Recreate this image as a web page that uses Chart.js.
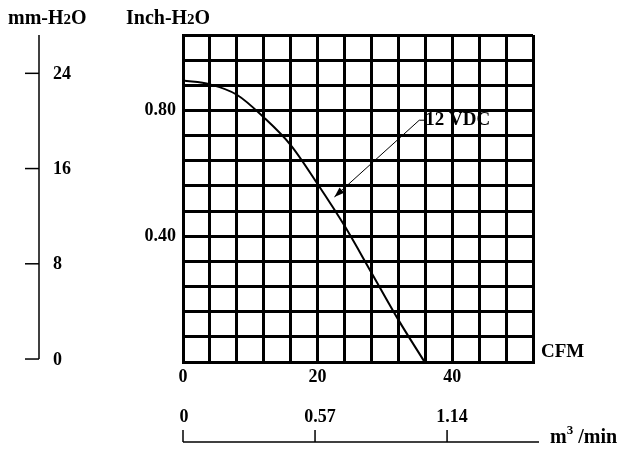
<!DOCTYPE html>
<html>
<head>
<meta charset="utf-8">
<script src="https://cdn.jsdelivr.net/npm/chart.js@4.4.1/dist/chart.umd.min.js"></script>
<style>
  html, body { margin: 0; padding: 0; background: #fff; }
  canvas { display: block; }
</style>
</head>
<body>
<canvas id="c" width="624" height="457"></canvas>
<script>
// ---- data ----
const cfm      = [0, 4, 8, 12, 16, 20, 24, 28, 32, 35.9];
const inchH2O  = [0.895, 0.883, 0.850, 0.778, 0.690, 0.566, 0.433, 0.284, 0.134, 0];
const cfmTickLabels  = [0, 20, 40];
const inchTickLabels = [0.40, 0.80];
const mmTickLabels   = [0, 8, 16, 24];
const m3TickLabels   = ['0', '0.57', '1.14'];
const m3TickValues   = [0, 0.57, 1.14];
const seriesLabel = '12 VDC';
// annotation: arrow from label to curve (data coordinates)
const arrowFrom = {x: 35.1, y: 0.769};
const arrowTo   = {x: 22.5, y: 0.525};

const FONT = '"Liberation Serif", "Times New Roman", serif';

function drawSub(ctx, parts, x, y) {
  // parts: [text, size, dy]
  let cx = x;
  for (const [t, size, dy] of parts) {
    ctx.font = 'bold ' + size + 'px ' + FONT;
    ctx.fillText(t, cx, y + dy);
    cx += ctx.measureText(t).width;
  }
}

const extras = {
  id: 'extras',
  afterDraw(chart) {
    const ctx = chart.ctx;
    const xs = chart.scales.x, ys = chart.scales.y;
    const mm = chart.scales.mm, m3 = chart.scales.m3;
    ctx.save();
    ctx.fillStyle = '#000';
    ctx.strokeStyle = '#000';

    // titles
    ctx.textBaseline = 'alphabetic';
    ctx.textAlign = 'left';
    drawSub(ctx, [['mm-H', 20, 0], ['2', 15, 0], ['O', 20, 0]], 8, 24);
    drawSub(ctx, [['Inch-H', 20, 0], ['2', 15, 0], ['O', 20, 0]], 126, 24);

    // mm-H2O axis
    const axX = 39;
    ctx.lineWidth = 1.5;
    ctx.beginPath();
    ctx.moveTo(axX, mm.getPixelForValue(mm.max));
    ctx.lineTo(axX, mm.getPixelForValue(0));
    ctx.stroke();
    ctx.font = 'bold 18px ' + FONT;
    ctx.textBaseline = 'middle';
    for (const v of mmTickLabels) {
      const py = mm.getPixelForValue(v);
      ctx.beginPath();
      ctx.moveTo(25, py);
      ctx.lineTo(axX, py);
      ctx.stroke();
      ctx.fillText(String(v), 53, py + 1);
    }

    // CFM label
    ctx.font = 'bold 19px ' + FONT;
    ctx.textBaseline = 'middle';
    ctx.fillText('CFM', 541, 352);

    // m3/min axis
    const axY = 442;
    ctx.beginPath();
    ctx.moveTo(m3.getPixelForValue(0), axY);
    ctx.lineTo(539, axY);
    ctx.stroke();
    ctx.textAlign = 'center';
    for (let i = 0; i < m3TickValues.length; i++) {
      const px = m3.getPixelForValue(m3TickValues[i]);
      ctx.beginPath();
      ctx.moveTo(px, axY);
      ctx.lineTo(px, axY - 12);
      ctx.stroke();
      ctx.font = 'bold 18px ' + FONT;
      ctx.fillText(m3TickLabels[i], px + (i === 0 ? 1 : 5), 417);
    }
    ctx.textAlign = 'left';
    ctx.textBaseline = 'alphabetic';
    drawSub(ctx, [['m', 20, 0], ['3', 13, -9], [' /min', 20, 0]], 550, 443);

    // series label + arrow
    const fx = xs.getPixelForValue(arrowFrom.x), fy = ys.getPixelForValue(arrowFrom.y);
    const tx = xs.getPixelForValue(arrowTo.x), ty = ys.getPixelForValue(arrowTo.y);
    ctx.lineWidth = 1;
    ctx.beginPath();
    ctx.moveTo(fx + 7, fy);
    ctx.lineTo(fx, fy);
    ctx.lineTo(tx, ty);
    ctx.stroke();
    const ang = Math.atan2(ty - fy, tx - fx);
    const L = 10, W = 3.5;
    ctx.beginPath();
    ctx.moveTo(tx, ty);
    ctx.lineTo(tx - L * Math.cos(ang) + W * Math.sin(ang), ty - L * Math.sin(ang) - W * Math.cos(ang));
    ctx.lineTo(tx - L * Math.cos(ang) - W * Math.sin(ang), ty - L * Math.sin(ang) + W * Math.cos(ang));
    ctx.closePath();
    ctx.fill();
    ctx.font = 'bold 19px ' + FONT;
    ctx.textBaseline = 'middle';
    ctx.fillText(seriesLabel, fx + 6, fy);
    ctx.restore();
  }
};

const tickFont = { family: FONT, size: 18, weight: 'bold' };

new Chart(document.getElementById('c'), {
  type: 'line',
  data: {
    datasets: [{
      label: seriesLabel,
      data: cfm.map((x, i) => ({ x, y: inchH2O[i] })),
      borderColor: '#000',
      borderWidth: 2,
      pointRadius: 0,
      fill: false,
      cubicInterpolationMode: 'monotone',
      xAxisID: 'x',
      yAxisID: 'y'
    }]
  },
  options: {
    responsive: false,
    animation: false,
    devicePixelRatio: 1,
    layout: { padding: { top: 35, right: 91, left: 0, bottom: 0 } },
    plugins: { legend: { display: false }, tooltip: { enabled: false } },
    scales: {
      x: {
        type: 'linear', position: 'bottom', min: 0, max: 52,
        afterFit(s) { s.height = 95; },
        ticks: {
          stepSize: 4, autoSkip: false, maxRotation: 0, color: '#000', font: tickFont, padding: 5,
          callback: v => cfmTickLabels.includes(v) ? String(v) : ''
        },
        grid: { color: '#000', lineWidth: 3, drawTicks: false },
        border: { color: '#000', width: 3 }
      },
      y: {
        type: 'linear', position: 'left', min: 0, max: 1.04,
        afterFit(s) { s.width = 183; },
        ticks: {
          stepSize: 0.08, autoSkip: false, color: '#000', font: tickFont, padding: 7,
          callback: v => {
            const m = inchTickLabels.find(t => Math.abs(t - v) < 1e-6);
            return m !== undefined ? m.toFixed(2) : '';
          }
        },
        grid: { color: '#000', lineWidth: 3, drawTicks: false },
        border: { color: '#000', width: 3 }
      },
      mm: { type: 'linear', axis: 'y', position: 'left', display: false, min: -0.25, max: 27.22 },
      m3: { type: 'linear', axis: 'x', position: 'bottom', display: false, min: 0, max: 1.511 }
    }
  },
  plugins: [extras]
});
</script>
</body>
</html>
